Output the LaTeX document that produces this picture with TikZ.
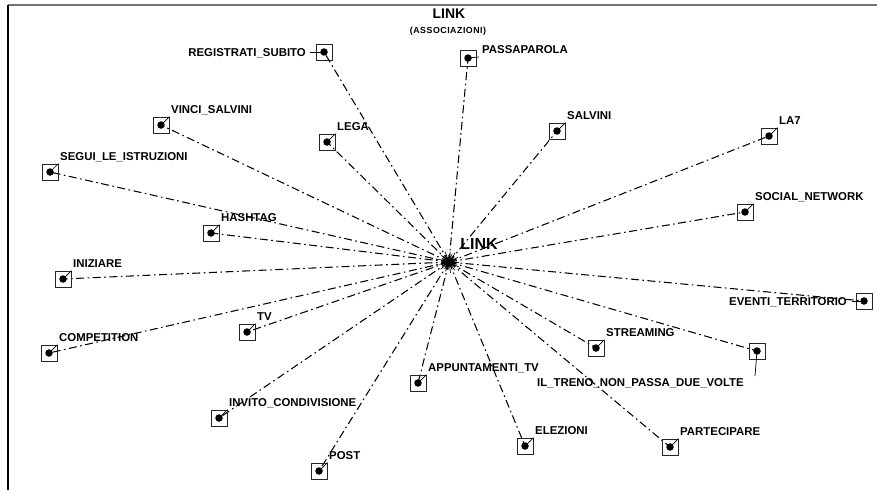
\documentclass[tikz,border=0pt]{standalone}
\usepackage{fontspec}
\setmainfont{Liberation Sans}
\begin{document}
\begin{tikzpicture}[x=1pt,y=-1pt,
  wbox/.style={draw=black!85, line width=0.8pt, minimum size=16pt, inner sep=0pt},
  wdot/.style={circle, fill=black, minimum size=7.5pt, inner sep=0pt},
  wlab/.style={font=\bfseries\fontsize{11.4}{13}\selectfont, inner sep=0pt, anchor=base west},
  wlabr/.style={wlab, anchor=base east},
  link/.style={line width=1.05pt, dash pattern=on 8pt off 3.5pt on 1.6pt off 3.5pt},
  leader/.style={line width=0.7pt},
  burst/.style={line width=0.7pt}]
\useasboundingbox (0,0) rectangle (877,490);
% frame
\draw[line width=1.2pt, black!55] (8,5) -- (877,5);
\draw[line width=1.5pt] (8,5) -- (8,490);
% titles
\node[font=\bfseries\fontsize{14}{16}\selectfont, inner sep=0pt] (title) at (449,14) {LINK};
\node[font=\bfseries\fontsize{8.8}{10}\selectfont\addfontfeature{LetterSpace=6}, inner sep=0pt] (subtitle) at (448,31) {(ASSOCIAZIONI)};
% hub
\coordinate (hub) at (449,262);
\foreach \a/\r in {0/10,13/7,27/11,41/8,55/10,68/7,82/11,97/8,110/10,124/7,139/11,152/8,166/10,180/8,194/11,208/7,221/10,235/8,249/11,263/7,277/10,290/8,304/11,318/7,332/10,346/8,6/5,34/6,75/5,117/6,159/5,201/6,242/5,284/6,325/5}
  \draw[burst] (hub) -- ++(\a:\r);
% standard words: label above right
\foreach \n/\x/\y/\t in {
  vinci/161/125/VINCI\_SALVINI,
  lega/327/142/LEGA,
  salvini/557/131/SALVINI,
  la7/769/136/LA7,
  segui/50/172/SEGUI\_LE\_ISTRUZIONI,
  social/745/212/SOCIAL\_NETWORK,
  hashtag/211/233/HASHTAG,
  iniziare/63/279/INIZIARE,
  competition/49/353/COMPETITION,
  tv/247/332/TV,
  streaming/596/348/STREAMING,
  appunt/418/383/APPUNTAMENTI\_TV,
  invito/219/418/INVITO\_CONDIVISIONE,
  elezioni/525/446/ELEZIONI,
  partecipare/670/447/PARTECIPARE,
  post/319/471/POST} {
  \draw[link] (hub) -- (\x,\y);
  \node[wbox] (\n) at (\x,\y) {};
  \node[wdot] (\n-d) at (\n) {};
  \node[wlab] (\n-l) at (\x+10,\y-12) {\t};
  \draw[leader] (\n-d.center) -- (\n.north east);
}
% REGISTRATI_SUBITO (label left)
\node[wbox] (regis) at (324,52) {};
\node[wdot] (regis-d) at (regis) {};
\node[wlabr] (regis-l) at (306,56) {REGISTRATI\_SUBITO};
\coordinate (regis-t) at (310,52);
\draw[leader] (regis-d.center) -- (regis-t);
\draw[link] (hub) -- (regis-d.center);
% PASSAPAROLA (label right)
\node[wbox] (passa) at (468,58) {};
\node[wdot] (passa-d) at (passa) {};
\node[wlab] (passa-l) at (482,53) {PASSAPAROLA};
\coordinate (passa-t) at (479,57);
\draw[leader] (passa-d.center) -- (passa-t);
\draw[link] (hub) -- (passa-d.center);
% EVENTI_TERRITORIO (label left)
\node[wbox] (eventi) at (864,301) {};
\node[wdot] (eventi-d) at (eventi) {};
\node[wlabr] (eventi-l) at (847,305) {EVENTI\_TERRITORIO};
\coordinate (eventi-t) at (852,301);
\draw[leader] (eventi-d.center) -- (eventi-t);
\draw[link] (hub) -- (eventi-d.center);
% IL_TRENO_NON_PASSA_DUE_VOLTE (label below left)
\node[wbox] (treno) at (757,351) {};
\node[wdot] (treno-d) at (treno) {};
\node[wlabr] (treno-l) at (744,386) {IL\_TRENO\_NON\_PASSA\_DUE\_VOLTE};
\coordinate (treno-t) at (755,376);
\draw[leader] (treno-d.center) -- (treno-t);
\draw[link] (hub) -- (treno-d.center);
% hub label
\node[font=\bfseries\fontsize{16}{18}\selectfont, inner sep=0pt] (hublab) at (479,244) {LINK};
\end{tikzpicture}
\end{document}
